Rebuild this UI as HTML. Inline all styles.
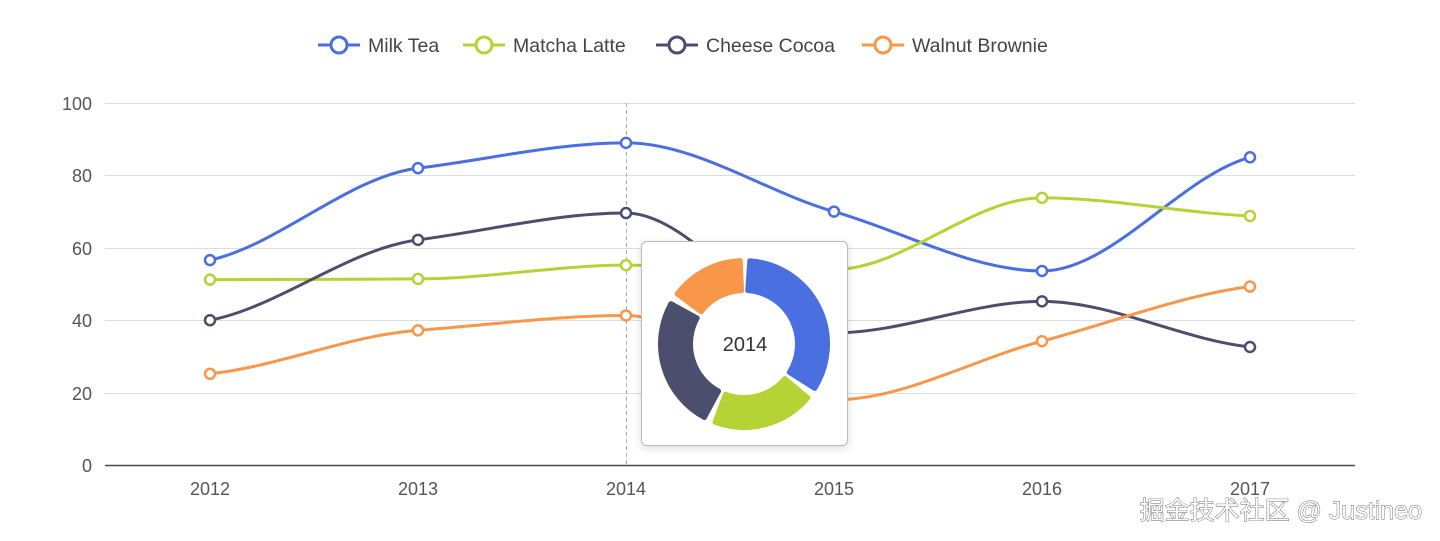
<!DOCTYPE html>
<html><head><meta charset="utf-8"><style>
html,body{margin:0;padding:0;background:#fff;width:1440px;height:541px;overflow:hidden}
svg{display:block;font-family:"Liberation Sans","Noto Sans CJK SC",sans-serif}
</style></head><body>
<svg id="s" width="1440" height="541" xmlns="http://www.w3.org/2000/svg">
<g stroke="#dcdde2" stroke-width="1">
<line x1="105" y1="103.5" x2="1355" y2="103.5"/><line x1="105" y1="175.5" x2="1355" y2="175.5"/>
<line x1="105" y1="248.5" x2="1355" y2="248.5"/><line x1="105" y1="320.5" x2="1355" y2="320.5"/>
<line x1="105" y1="393.5" x2="1355" y2="393.5"/>
</g>
<line x1="105" y1="465.5" x2="1355" y2="465.5" stroke="#4a4a4a" stroke-width="1.5"/>
<line x1="626.5" y1="103" x2="626.5" y2="465" stroke="#aaa" stroke-width="1" stroke-dasharray="4,3"/>
<g fill="#555" font-size="18" text-anchor="end">
<text x="92" y="110">100</text><text x="92" y="182">80</text><text x="92" y="255">60</text>
<text x="92" y="327">40</text><text x="92" y="400">20</text><text x="92" y="472">0</text>
</g>
<g fill="#555" font-size="18" text-anchor="middle">
<text x="210" y="495">2012</text><text x="418" y="495">2013</text><text x="626" y="495">2014</text>
<text x="834" y="495">2015</text><text x="1042" y="495">2016</text><text x="1250" y="495">2017</text>
</g>
<g id="series"></g>
<g font-size="19.5" fill="#444">
<line x1="318" y1="45" x2="360" y2="45" stroke="#4a6fe0" stroke-width="3"/><circle cx="339" cy="45" r="8" fill="#fff" stroke="#4a6fe0" stroke-width="3"/><text x="368" y="52">Milk Tea</text>
<line x1="463" y1="45" x2="505" y2="45" stroke="#b5d334" stroke-width="3"/><circle cx="484" cy="45" r="8" fill="#fff" stroke="#b5d334" stroke-width="3"/><text x="513" y="52">Matcha Latte</text>
<line x1="656" y1="45" x2="698" y2="45" stroke="#4b4e6d" stroke-width="3"/><circle cx="677" cy="45" r="8" fill="#fff" stroke="#4b4e6d" stroke-width="3"/><text x="706" y="52">Cheese Cocoa</text>
<line x1="862" y1="45" x2="904" y2="45" stroke="#f8974a" stroke-width="3"/><circle cx="883" cy="45" r="8" fill="#fff" stroke="#f8974a" stroke-width="3"/><text x="912" y="52">Walnut Brownie</text>
</g>
<rect x="641.5" y="241.5" width="206" height="204" rx="5" fill="#fff" stroke="#bbb" stroke-width="1" style="filter:drop-shadow(0 2px 4px rgba(0,0,0,.15))"/>
<g id="donut"></g>
<text x="745" y="351" font-size="20" fill="#333" text-anchor="middle">2014</text>
<text x="1422" y="519" font-size="25" fill="#fff" stroke="#666" stroke-width="0.9" text-anchor="end" style="paint-order:stroke">掘金技术社区 @ Justineo</text>
</svg>
<script>
var xs=[210,418,626,834,1042,1250];
function Y(v){return 465-v*3.62;}
var S=[["#4a6fe0",[56.6,82,89,70,53.6,85]],["#b5d334",[51.2,51.4,55.2,54,73.8,68.8]],["#4b4e6d",[40,62.2,69.6,36.5,45.2,32.6]],["#f8974a",[25.2,37.2,41.3,18,34.2,49.3]]];
var g=document.getElementById('series'),h='';
S.forEach(function(s){
 var p=s[1].map(function(v,i){return [xs[i],Y(v)]});
 var n=p.length,m=[],sl=[];
 for(var i=0;i<n-1;i++)sl.push((p[i+1][1]-p[i][1])/(p[i+1][0]-p[i][0]));
 for(var i=0;i<n;i++){
  if(i==0)m.push(sl[0]*0.5);else if(i==n-1)m.push(sl[n-2]*0.5);
  else{var a=sl[i-1],b=sl[i];if(a*b<=0)m.push(0);else m.push((Math.sign(a))*Math.min(Math.abs(a),Math.abs(b),0.5*Math.abs(a+b)));}
 }
 var d='M'+p[0][0]+','+p[0][1];
 for(var i=1;i<n;i++){var dx=(p[i][0]-p[i-1][0])/3;
  d+=' C'+(p[i-1][0]+dx)+','+(p[i-1][1]+m[i-1]*dx)+' '+(p[i][0]-dx)+','+(p[i][1]-m[i]*dx)+' '+p[i][0]+','+p[i][1];}
 h+='<path d="'+d+'" fill="none" stroke="'+s[0]+'" stroke-width="3"/>';
 p.forEach(function(pt){h+='<circle cx="'+pt[0]+'" cy="'+pt[1]+'" r="5" fill="#fff" stroke="'+s[0]+'" stroke-width="2.5"/>';});
});
g.innerHTML=h;
var cx=744,cy=344,R=83.5,r=53.5,vals=[89,55.2,69.6,41.3],cols=["#4a6fe0","#b5d334","#4b4e6d","#f8974a"],tot=254.1,a=-90,dh='';
vals.forEach(function(v,i){var sw=v/tot*360,a0=a+4,a1=a+sw-4;a+=sw;
 function pt(rr,ang){var t=ang*Math.PI/180;return (cx+rr*Math.cos(t)).toFixed(1)+','+(cy+rr*Math.sin(t)).toFixed(1);}
 var lg=(a1-a0)>180?1:0;
 dh+='<path d="M'+pt(R,a0)+' A'+R+','+R+' 0 '+lg+' 1 '+pt(R,a1)+' L'+pt(r,a1)+' A'+r+','+r+' 0 '+lg+' 0 '+pt(r,a0)+' Z" fill="'+cols[i]+'" stroke="'+cols[i]+'" stroke-width="5" stroke-linejoin="round"/>';});
document.getElementById('donut').innerHTML=dh;
</script>
</body></html>
